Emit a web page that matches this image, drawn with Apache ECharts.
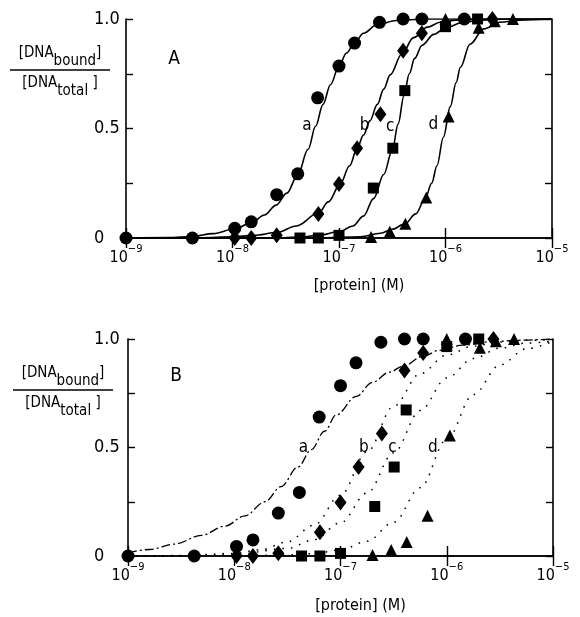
<!DOCTYPE html>
<html><head><meta charset="utf-8">
<script src="https://cdn.jsdelivr.net/npm/echarts@6/dist/echarts.min.js"></script>
<style>html,body{margin:0;padding:0;background:#fff;}#c{width:580px;height:617px;}</style>
</head><body><div id="c"></div>
<script>
// ---------- data ----------
const xTickExponents = [-9, -8, -7, -6, -5];
const yTickValues = [0, 0.5, 1];
const yTickTexts = ['0', '0.5', '1.0'];
const curveNames = ['a', 'b', 'c', 'd'];

// measured points (protein concentration in M, fraction of DNA bound)
const circleConc   = [1e-9, 4.2e-9, 1.05e-8, 1.5e-8, 2.6e-8, 4.1e-8, 6.3e-8, 1.0e-7, 1.4e-7, 2.4e-7, 4.0e-7, 6.0e-7, 1.5e-6];
const circleFrac   = [0, 0, 0.044, 0.074, 0.198, 0.293, 0.64, 0.785, 0.89, 0.985, 1.0, 1.0, 1.0];
const diamondConc  = [1.05e-8, 1.5e-8, 2.6e-8, 6.4e-8, 1.0e-7, 1.48e-7, 2.45e-7, 4.0e-7, 6.0e-7, 2.75e-6];
const diamondFrac  = [0, 0, 0.013, 0.11, 0.247, 0.41, 0.565, 0.855, 0.935, 1.0];
const squareConc   = [4.3e-8, 6.4e-8, 1.0e-7, 2.1e-7, 3.2e-7, 4.15e-7, 1.0e-6, 2.0e-6];
const squareFrac   = [0, 0, 0.012, 0.228, 0.41, 0.673, 0.965, 1.0];
const triangleConc = [2.0e-7, 3.0e-7, 4.2e-7, 6.6e-7, 1.07e-6, 1.0e-6, 2.05e-6, 2.9e-6, 4.3e-6];
const triangleFrac = [0.005, 0.028, 0.065, 0.185, 0.555, 1.0, 0.96, 0.99, 1.0];

// panel A fitted curves (log10 concentration, fraction bound)
const curveA_a_log  = [-9.0, -8.6, -8.38, -8.18, -7.98, -7.82, -7.7, -7.59, -7.49, -7.39, -7.29, -7.22, -7.15, -7.08, -7.0, -6.93, -6.855, -6.77, -6.64, -6.46, -6.2, -5.0];
const curveA_a_frac = [0, 0.002, 0.007, 0.02, 0.042, 0.07, 0.105, 0.15, 0.205, 0.285, 0.405, 0.51, 0.61, 0.70, 0.785, 0.845, 0.89, 0.935, 0.975, 0.993, 1.0, 1.0];
const curveA_b_log  = [-9.0, -8.3, -8.0, -7.8, -7.585, -7.4, -7.19, -7.1, -6.99, -6.9, -6.83, -6.77, -6.71, -6.64, -6.58, -6.52, -6.41, -6.30, -6.17, -6.05, -5.9, -5.7, -5.0];
const curveA_b_frac = [0, 0.001, 0.005, 0.012, 0.025, 0.055, 0.115, 0.165, 0.245, 0.33, 0.41, 0.47, 0.535, 0.61, 0.68, 0.745, 0.84, 0.915, 0.963, 0.985, 0.995, 1.0, 1.0];
const curveA_c_log  = [-9.0, -7.6, -7.365, -7.2, -6.99, -6.87, -6.77, -6.675, -6.58, -6.5, -6.445, -6.39, -6.34, -6.29, -6.22, -6.11, -6.0, -5.83, -5.67, -5.4, -5.0];
const curveA_c_frac = [0, 0.001, 0.004, 0.012, 0.03, 0.055, 0.1, 0.18, 0.29, 0.40, 0.52, 0.65, 0.75, 0.82, 0.88, 0.93, 0.96, 0.985, 0.995, 1.0, 1.0];
const curveA_d_log  = [-9.0, -7.2, -6.8, -6.61, -6.5, -6.38, -6.28, -6.19, -6.13, -6.08, -6.02, -5.955, -5.9, -5.86, -5.77, -5.64, -5.49, -5.3, -5.0];
const curveA_d_frac = [0, 0.001, 0.006, 0.022, 0.04, 0.065, 0.11, 0.18, 0.25, 0.33, 0.46, 0.6, 0.71, 0.78, 0.885, 0.955, 0.985, 0.995, 1.0];

// panel B theoretical curves
const curveB_a_log  = [-9.0, -8.8, -8.56, -8.31, -8.09, -7.9, -7.71, -7.56, -7.4, -7.275, -7.15, -7.04, -6.85, -6.7, -6.54, -6.41, -6.225, -6.07, -5.85, -5.57, -5.3, -5.0];
const curveB_a_frac = [0.015, 0.03, 0.055, 0.095, 0.137, 0.185, 0.25, 0.32, 0.41, 0.49, 0.575, 0.65, 0.736, 0.80, 0.847, 0.875, 0.92, 0.948, 0.972, 0.988, 0.995, 1.0];
const curveB_b_log  = [-9.0, -8.5, -8.0, -7.75, -7.5, -7.25, -7.0, -6.75, -6.5, -6.25, -6.0, -5.75, -5.5, -5.25, -5.0];
const curveB_b_frac = [0, 0.002, 0.012, 0.029, 0.065, 0.142, 0.28, 0.48, 0.69, 0.84, 0.926, 0.967, 0.986, 0.994, 0.997];
const curveB_c_log  = [-9.0, -8.5, -8.0, -7.5, -7.25, -7.0, -6.75, -6.5, -6.25, -6.0, -5.75, -5.5, -5.25, -5.0];
const curveB_c_frac = [0, 0.001, 0.007, 0.035, 0.075, 0.153, 0.29, 0.476, 0.67, 0.82, 0.91, 0.958, 0.981, 0.991];
const curveB_d_log  = [-9.0, -8.0, -7.5, -7.25, -7.0, -6.75, -6.5, -6.25, -6.0, -5.75, -5.5, -5.25, -5.0];
const curveB_d_frac = [0, 0.001, 0.005, 0.011, 0.028, 0.068, 0.155, 0.315, 0.537, 0.744, 0.88, 0.955, 0.99];

// curve label anchor points (log10 conc, fraction)
const labelA_log  = [-7.30, -6.76, -6.52, -6.115];
const labelA_frac = [0.515, 0.515, 0.51, 0.52];
const labelB_log  = [-7.35, -6.78, -6.51, -6.13];
const labelB_frac = [0.50, 0.50, 0.50, 0.50];

// ---------- chart ----------
const FONT = "'DejaVu Sans Condensed', 'Liberation Sans Narrow', 'Liberation Sans', sans-serif";
const INK = '#000';
const pairs = (xs, ys) => xs.map((x, i) => [x, ys[i]]);
const logPairs = (es, ys) => es.map((e, i) => [Math.pow(10, e), ys[i]]);

function xAxes(grid) {
  const common = {
    type: 'log', logBase: 10, gridIndex: grid, min: 1e-9, max: 1e-5,
    axisLine: { show: true, lineStyle: { color: INK, width: 1.6 } },
    axisTick: { show: true, inside: true, length: 10, lineStyle: { color: INK, width: 1.4 } },
    minorTick: { show: false }, splitLine: { show: false }
  };
  return [
    Object.assign({}, common, {
      position: 'bottom',
      name: '[protein] (M)', nameLocation: 'middle', nameGap: grid === 0 ? 40 : 42,
      nameTextStyle: { fontFamily: FONT, fontSize: 16, color: INK, padding: [0, 0, 0, 40] },
      axisLabel: {
        show: true, margin: 6, color: INK, fontFamily: FONT,
        formatter: v => {
          const e = Math.round(Math.log10(v));
          return xTickExponents.indexOf(e) >= 0 ? '{b|10}{s|\u2212' + Math.abs(e) + '}' : '';
        },
        rich: {
          b: { fontSize: 16, fontFamily: FONT, color: INK, lineHeight: 22, verticalAlign: 'bottom' },
          s: { fontSize: 11, fontFamily: FONT, color: INK, lineHeight: 12, verticalAlign: 'top' }
        }
      }
    }),
    Object.assign({}, common, { position: 'top', axisLabel: { show: false } })
  ];
}
function yAxes(grid) {
  const common = {
    type: 'value', gridIndex: grid, min: 0, max: 1, interval: 0.25,
    axisLine: { show: true, lineStyle: { color: INK, width: 1.6 } },
    axisTick: { show: true, inside: true, length: 7, lineStyle: { color: INK, width: 1.4 } },
    splitLine: { show: false }
  };
  return [
    Object.assign({}, common, {
      position: 'left',
      axisLabel: {
        show: true, align: 'left', margin: grid === 0 ? 32 : 34, color: INK,
        fontFamily: FONT, fontSize: 18,
        formatter: v => { const k = yTickValues.indexOf(v); return k >= 0 ? yTickTexts[k] : ''; }
      }
    }),
    Object.assign({}, common, { position: 'right', axisLabel: { show: false } })
  ];
}

function markerSeries(xi, yi) {
  const base = { type: 'scatter', xAxisIndex: xi, yAxisIndex: yi, clip: false, z: 5,
    itemStyle: { color: INK, opacity: 1 }, silent: true };
  return [
    Object.assign({}, base, { symbol: 'circle', symbolSize: 13, data: pairs(circleConc, circleFrac) }),
    Object.assign({}, base, { symbol: 'diamond', symbolSize: [12, 16], data: pairs(diamondConc, diamondFrac) }),
    Object.assign({}, base, { symbol: 'rect', symbolSize: 11, data: pairs(squareConc, squareFrac) }),
    Object.assign({}, base, { symbol: 'triangle', symbolSize: 12, data: pairs(triangleConc, triangleFrac) })
  ];
}
function curveSeries(xi, yi, logs, fracs, style) {
  return {
    type: 'line', xAxisIndex: xi, yAxisIndex: yi, showSymbol: false, symbol: 'none',
    smooth: 0.35, smoothMonotone: 'x', z: 3, silent: true,
    lineStyle: Object.assign({ color: INK, width: 1.6, opacity: 1 }, style),
    data: logPairs(logs, fracs)
  };
}
function labelSeries(xi, yi, logs, fracs) {
  return {
    type: 'scatter', xAxisIndex: xi, yAxisIndex: yi, symbolSize: 0, z: 6, silent: true,
    itemStyle: { color: INK, opacity: 1 },
    label: { show: true, position: 'inside', formatter: p => p.name, opacity: 1,
      textBorderWidth: 0, textBorderColor: 'transparent', textShadowBlur: 0,
      fontFamily: FONT, fontSize: 17, color: INK },
    data: logs.map((e, i) => ({ name: curveNames[i], value: [Math.pow(10, e), fracs[i]] }))
  };
}

const solid = { type: 'solid', width: 1.6 };
const dashDot = { type: [9, 3, 2, 3], width: 1.3 };
const dotted = { type: [1.6, 7], width: 1.5 };

function fraction(x, yTop, lineY, yBot) {
  const rich = {
    n: { fontSize: 15, fontFamily: FONT, fill: INK, lineHeight: 16, verticalAlign: 'top' },
    s: { fontSize: 15, fontFamily: FONT, fill: INK, lineHeight: 23, verticalAlign: 'bottom' }
  };
  return [
    { type: 'text', x: x, y: yTop, style: { text: '{n|[DNA}{s|bound}{n|]}', rich: rich,
      fontFamily: FONT, fontSize: 15, fill: INK, align: 'center', verticalAlign: 'bottom' } },
    { type: 'line', shape: { x1: x - 50, y1: lineY, x2: x + 50, y2: lineY },
      style: { stroke: INK, lineWidth: 1.5 } },
    { type: 'text', x: x, y: yBot, style: { text: '{n|[DNA}{s|total}{n| ]}', rich: rich,
      fontFamily: FONT, fontSize: 15, fill: INK, align: 'center', verticalAlign: 'top' } }
  ];
}

const chart = echarts.init(document.getElementById('c'), null, { renderer: 'canvas' });
chart.setOption({
  animation: false,
  backgroundColor: '#fff',
  grid: [
    { left: 126, top: 19, width: 426, height: 219 },
    { left: 128, top: 339, width: 425, height: 217 }
  ],
  xAxis: xAxes(0).concat(xAxes(1)),
  yAxis: yAxes(0).concat(yAxes(1)),
  graphic: [
    { type: 'text', x: 174, y: 59, style: { text: 'A', fontFamily: FONT, fontSize: 19, fill: INK, align: 'center', verticalAlign: 'middle' } },
    { type: 'text', x: 176, y: 376, style: { text: 'B', fontFamily: FONT, fontSize: 19, fill: INK, align: 'center', verticalAlign: 'middle' } }
  ].concat(fraction(60, 69, 70, 76), fraction(63, 389, 390, 396)),
  series: [].concat(
    markerSeries(0, 0),
    [
      curveSeries(0, 0, curveA_a_log, curveA_a_frac, solid),
      curveSeries(0, 0, curveA_b_log, curveA_b_frac, solid),
      curveSeries(0, 0, curveA_c_log, curveA_c_frac, solid),
      curveSeries(0, 0, curveA_d_log, curveA_d_frac, solid),
      labelSeries(0, 0, labelA_log, labelA_frac)
    ],
    markerSeries(2, 2),
    [
      curveSeries(2, 2, curveB_a_log, curveB_a_frac, dashDot),
      curveSeries(2, 2, curveB_b_log, curveB_b_frac, dotted),
      curveSeries(2, 2, curveB_c_log, curveB_c_frac, dotted),
      curveSeries(2, 2, curveB_d_log, curveB_d_frac, dotted),
      labelSeries(2, 2, labelB_log, labelB_frac)
    ]
  )
});
</script></body></html>
